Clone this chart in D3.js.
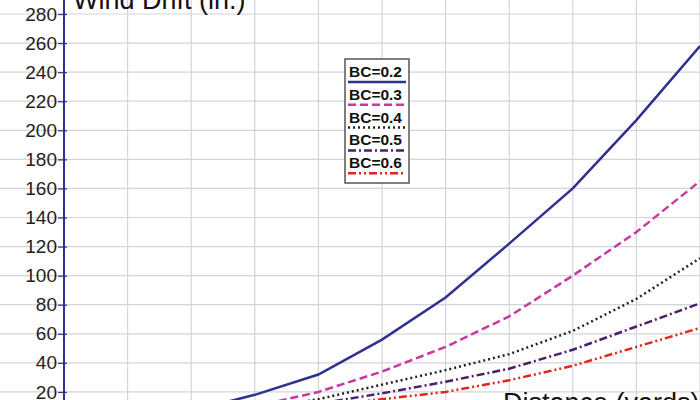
<!DOCTYPE html>
<html>
<head>
<meta charset="utf-8">
<script src="https://cdn.jsdelivr.net/npm/d3@7"></script>
<style>
    body { margin: 0; background: #fff; }
    svg { display: block; }
</style>
</head>
<body>
<svg id="chart" width="700" height="400"></svg>
<script>
// Data (yards every 100, drift in inches).
var distances = [0, 100, 200, 300, 400, 500, 600, 700, 800, 900, 1000];
var seriesNames = ['BC=0.2', 'BC=0.3', 'BC=0.4', 'BC=0.5', 'BC=0.6'];
var driftBC02 = [0, 2, 7, 18, 32, 56, 85, 122, 160, 207, 258];
var driftBC03 = [0, 1, 5, 10, 20, 34, 51, 72, 100, 130, 165];
var driftBC04 = [0, 1, 3, 8, 15, 25, 35, 46, 62, 84, 112];
var driftBC05 = [0, 0.5, 2, 6, 12, 19, 27, 36, 49, 65, 81];
var driftBC06 = [0, 0.5, 2, 5, 10, 15, 20, 28, 38, 51, 64];
var yTicks = [20, 40, 60, 80, 100, 120, 140, 160, 180, 200, 220, 240, 260, 280];

var svg = d3.select('#chart');
var width = 700;
var height = 400;

// The reference is a crop, so the axes run past the edges.
var x = d3.scaleLinear().domain([0, 1000]).range([64, 700]);
var y = d3.scaleLinear().domain([0, 280]).range([421, 14]);

var styles = [
    { color: '#2f318f', dash: null },
    { color: '#c8389e', dash: '8,4' },
    { color: '#222222', dash: '2,3' },
    { color: '#4a1f6b', dash: '8,3,2,3' },
    { color: '#e0261c', dash: '8,3,2,3,2,3' }
];
var allDrift = [driftBC02, driftBC03, driftBC04, driftBC05, driftBC06];

svg.append('rect')
    .attr('width', width)
    .attr('height', height)
    .attr('fill', '#ffffff');

// Grid.
var grid = svg.append('g');
grid.selectAll('line.h')
    .data(d3.range(0, 300, 20))
    .enter().append('line')
    .attr('x1', 0)
    .attr('x2', width)
    .attr('y1', function(d) { return y(d); })
    .attr('y2', function(d) { return y(d); })
    .attr('stroke', '#d4d4dc')
    .attr('stroke-width', 1.2);

grid.selectAll('line.v')
    .data(distances.slice(1))
    .enter().append('line')
    .attr('x1', function(d) { return x(d); })
    .attr('x2', function(d) { return x(d); })
    .attr('y1', 0)
    .attr('y2', height)
    .attr('stroke', '#d4d4dc')
    .attr('stroke-width', 1.2);

// Y axis.
var yAxis = d3.axisLeft(y)
    .tickValues(yTicks)
    .tickSize(6)
    .tickPadding(1);

var yg = svg.append('g')
    .attr('transform', 'translate(' + x(0) + ',0)')
    .call(yAxis);
yg.select('.domain').remove();
yg.selectAll('.tick line')
    .attr('x2', -6)
    .attr('x1', 3)
    .attr('stroke', '#3a3a80')
    .attr('stroke-width', 1.3);
yg.selectAll('.tick text')
    .attr('fill', '#222')
    .attr('font-family', 'Liberation Sans, Arial, sans-serif')
    .attr('font-size', 19);

svg.append('line')
    .attr('x1', x(0))
    .attr('x2', x(0))
    .attr('y1', 0)
    .attr('y2', height)
    .attr('stroke', '#2f318f')
    .attr('stroke-width', 2);

// Curves.
var line = d3.line()
    .x(function(d, i) { return x(distances[i]); })
    .y(function(d) { return y(d); });

allDrift.forEach(function(values, i) {
    svg.append('path')
        .datum(values)
        .attr('d', line)
        .attr('fill', 'none')
        .attr('stroke', styles[i].color)
        .attr('stroke-width', 2.5)
        .attr('stroke-dasharray', styles[i].dash);
});

// Axis titles, cut off by the crop like in the picture.
svg.append('text')
    .attr('x', 73)
    .attr('y', 9)
    .attr('font-family', 'Liberation Sans, Arial, sans-serif')
    .attr('font-size', 27)
    .attr('fill', '#111')
    .text('Wind Drift (in.)');

svg.append('text')
    .attr('x', 503)
    .attr('y', 412)
    .attr('font-family', 'Liberation Sans, Arial, sans-serif')
    .attr('font-size', 27)
    .attr('fill', '#111')
    .text('Distance (yards)');

// Legend.
var legend = svg.append('g')
    .attr('transform', 'translate(345,59)');

legend.append('rect')
    .attr('width', 64)
    .attr('height', 124)
    .attr('fill', '#ffffff')
    .attr('stroke', '#555')
    .attr('stroke-width', 1.5);

seriesNames.forEach(function(name, i) {
    var top = i * 22.8;
    legend.append('text')
        .attr('x', 4)
        .attr('y', top + 18)
        .attr('font-family', 'Liberation Sans, Arial, sans-serif')
        .attr('font-weight', 'bold')
        .attr('font-size', 15.5)
        .attr('fill', '#111')
        .text(name);
    legend.append('line')
        .attr('x1', 3)
        .attr('x2', 61)
        .attr('y1', top + 23)
        .attr('y2', top + 23)
        .attr('stroke', styles[i].color)
        .attr('stroke-width', 2.5)
        .attr('stroke-dasharray', styles[i].dash);
});
</script>
</body>
</html>
